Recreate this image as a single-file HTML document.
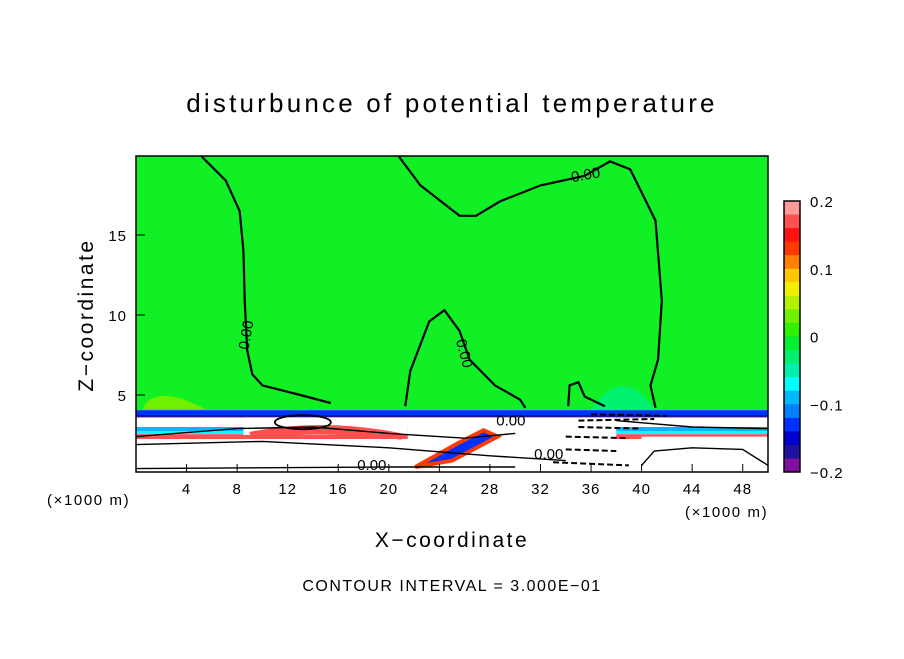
<!DOCTYPE html>
<html><head><meta charset="utf-8"><style>
body{margin:0;background:#fff;width:904px;height:654px;overflow:hidden;font-family:"Liberation Sans",sans-serif}
text{font-family:"Liberation Sans",sans-serif;fill:#000}
</style></head><body>
<svg id="chart" width="904" height="654" viewBox="0 0 904 654">
<text x="452" y="112" font-size="26" text-anchor="middle" letter-spacing="3.2">disturbunce of potential temperature</text>
<defs><clipPath id="pc"><rect x="136" y="156" width="632" height="316"/></clipPath></defs>
<g id="plot" clip-path="url(#pc)">
<rect x="136" y="156" width="632" height="316" fill="#10f024"/>
<g id="bands"></g>
<g id="contours"></g>
</g>
<rect x="136" y="156" width="632" height="316" fill="none" stroke="#000" stroke-width="1.5"/>
<g id="axes"></g>
<g id="cbar"></g>
<text x="47" y="505" font-size="15" letter-spacing="1.6">(×1000 m)</text>
<text x="685" y="517" font-size="15" letter-spacing="1.6">(×1000 m)</text>
<text x="452" y="547" font-size="21" text-anchor="middle" letter-spacing="2.5">X−coordinate</text>
<text transform="translate(93,315) rotate(-90)" font-size="21" text-anchor="middle" letter-spacing="2.5">Z−coordinate</text>
<text x="452" y="591" font-size="16" text-anchor="middle" letter-spacing="1.5">CONTOUR INTERVAL = 3.000E−01</text>
</svg>
<script>
const xTicks=[4,8,12,16,20,24,28,32,36,40,44,48];
const zTicks=[5,10,15];
const cbarColors=["#ff9a9a","#ff5050","#ff1010","#ff3a00","#ff8000","#ffc800","#f0f000","#b4f000","#70f000","#30f000","#00f030","#00f070","#00f0b0","#00ffff","#00b8ff","#0080ff","#0030ff","#0000d0","#2010a0","#8010a0"];
const cbarTicks=[0.2,0.1,0,-0.1,-0.2];
const cbarLabels=["0.2","0.1","0","−0.1","−0.2"];
const contourLeft=[[5.2,19.9],[7.1,18.4],[8.2,16.5],[8.5,14],[8.6,10.9],[8.8,7.8],[9.2,6.3],[10,5.6],[13,5],[15.4,4.5]];
const contourTop=[[20.8,19.9],[22.5,18.1],[25.6,16.2],[26.9,16.2],[28.8,17.1],[32,18.1],[35.5,18.7],[37.5,19.6],[39.1,19.1],[41.1,15.9],[41.6,10.9],[41.3,7.2],[40.7,5.6],[41.1,4.2]];
const contourTongue=[[21.3,4.3],[21.7,6.5],[23.2,9.6],[24.4,10.3],[25.6,9],[26.4,7.2],[28.4,5.6],[30.4,4.7],[30.8,4.2]];
const contourSmall=[[34.2,4.3],[34.3,5.6],[35,5.8],[35.5,4.9],[37.1,4.3]];
const lowerLines=[[[0,2.4],[8,2.9],[14,3.0],[20,2.6],[26,2.3],[30,2.6]],[[0,1.9],[10,2.1],[20,1.7],[28,1.2],[34,0.9]],[[0,0.4],[20,0.5],[30,0.5]],[[40,0.6],[41,1.5],[44,1.7],[48,1.6],[50,0.6]],[[38,3.4],[44,3.0],[50,2.9]]];
const dashLines=[[[35,3.4],[41,3.5]],[[35,3.0],[40,2.9]],[[34,2.4],[39,2.3]],[[34,1.6],[38,1.5]],[[33,0.8],[39,0.6]],[[36,3.8],[42,3.7]]];
const X=v=>136+v*12.64, Z=v=>475-v*16;
const NS="http://www.w3.org/2000/svg";
function mk(tag,attrs,parent){const e=document.createElementNS(NS,tag);for(const k in attrs)e.setAttribute(k,attrs[k]);parent.appendChild(e);return e;}
const bands=document.getElementById('bands');
let r=mk('rect',{x:X(0),y:Z(4.05),width:632,height:Z(0)-Z(4.05),fill:"#fff"},bands);


const stripes=[[4.05,0.3,"#0030ff"],[3.75,0.15,"#2010a0"],[3.0,0.25,"#00b8ff"],[2.75,0.2,"#00ffff"],[2.55,0.3,"#ff5050"]];
stripes.forEach(s=>{const e=mk('rect',{x:X(0),y:Z(s[0]),width:X(50)-X(0),height:s[1]*16,fill:s[2]},bands);

});
const whiteBlocks=[[8.5,3.6,13,1.1],[21.5,3.6,16.5,3.6],[40,2.4,10,2.3]];
whiteBlocks.forEach(b=>{const e=mk('rect',{x:X(b[0]),y:Z(b[1]),width:b[2]*12.64,height:b[3]*16,fill:"#fff"},bands);

});
const redMid=mk('path',{d:`M${X(9)} ${Z(2.7)} Q${X(15)} ${Z(3.6)} ${X(21)} ${Z(2.6)} L${X(21)} ${Z(2.2)} Q${X(15)} ${Z(2.8)} ${X(9)} ${Z(2.3)} Z`,fill:"#ff5050"},bands);


const diag=mk('path',{d:`M${X(22.1)} ${Z(0.5)} L${X(25.5)} ${Z(2.0)} L${X(27.5)} ${Z(2.8)} L${X(28.6)} ${Z(2.4)} L${X(25)} ${Z(0.9)} Z`,fill:"#0030ff",stroke:"#ff3a00","stroke-width":4},bands);


const greenPatch=mk('path',{d:`M${X(0.5)} ${Z(4.1)} Q${X(1.5)} ${Z(5.8)} ${X(5.5)} ${Z(4.1)} Z`,fill:"#70f000"},bands);


const cyanPatch=mk('path',{d:`M${X(36)} ${Z(4.1)} Q${X(38.5)} ${Z(7.0)} ${X(41)} ${Z(4.1)} Z`,fill:"#00f070"},bands);


const C=document.getElementById('contours');
function line(pts,w,name,dash){const p=mk('polyline',{points:pts.map(q=>X(q[0])+','+Z(q[1])).join(' '),fill:'none',stroke:'#000','stroke-width':w},C);
if(dash)p.setAttribute('stroke-dasharray',dash);

}
line(contourLeft,2.2,'zero-contour-left');
line(contourTop,2.2,'zero-contour-top');
line(contourTongue,2.2,'zero-contour-tongue');
line(contourSmall,2.2,'zero-contour-small');
lowerLines.forEach(l=>line(l,1.4,'lower-contour'));
dashLines.forEach(l=>line(l,2,'negative-contour','6 3'));
const ell=mk('ellipse',{cx:X(13.2),cy:Z(3.3),rx:28,ry:7,fill:'none',stroke:'#000','stroke-width':1.8},C);


const labs=[[8.9,7.8,-80],[25.3,8.4,75],[34.5,18.3,-10],[28.5,3.1,0],[17.5,0.3,0],[31.5,1.0,0]];
labs.forEach(l=>{const t=mk('text',{x:X(l[0]),y:Z(l[1]),'font-size':15,transform:`rotate(${l[2]} ${X(l[0])} ${Z(l[1])})`},C);t.textContent='0.00';

});
const A=document.getElementById('axes');
xTicks.forEach(v=>{const l=mk('line',{x1:X(v),x2:X(v),y1:472,y2:464,stroke:'#000'},A);


const t=mk('text',{x:X(v),y:494,'font-size':15,'text-anchor':'middle','letter-spacing':1},A);t.textContent=v;

});
zTicks.forEach(v=>{const l=mk('line',{x1:136,x2:145,y1:Z(v),y2:Z(v),stroke:'#000'},A);


const t=mk('text',{x:127,y:Z(v)+6,'font-size':15,'text-anchor':'end','letter-spacing':1},A);t.textContent=v;

});
const CB=document.getElementById('cbar');
const cy=v=>336.5-v*677.5, bh=271/cbarColors.length;
cbarColors.forEach((c,i)=>{const e=mk('rect',{x:784,y:201+i*bh,width:16,height:bh+0.5,fill:c},CB);

});
const fr=mk('rect',{x:784,y:201,width:16,height:271,fill:'none',stroke:'#000','stroke-width':1.5},CB);


cbarTicks.forEach((v,i)=>{const t=mk('text',{x:810,y:cy(v)+6,'font-size':15,'letter-spacing':1},CB);t.textContent=cbarLabels[i];

});
</script>
</body></html>
